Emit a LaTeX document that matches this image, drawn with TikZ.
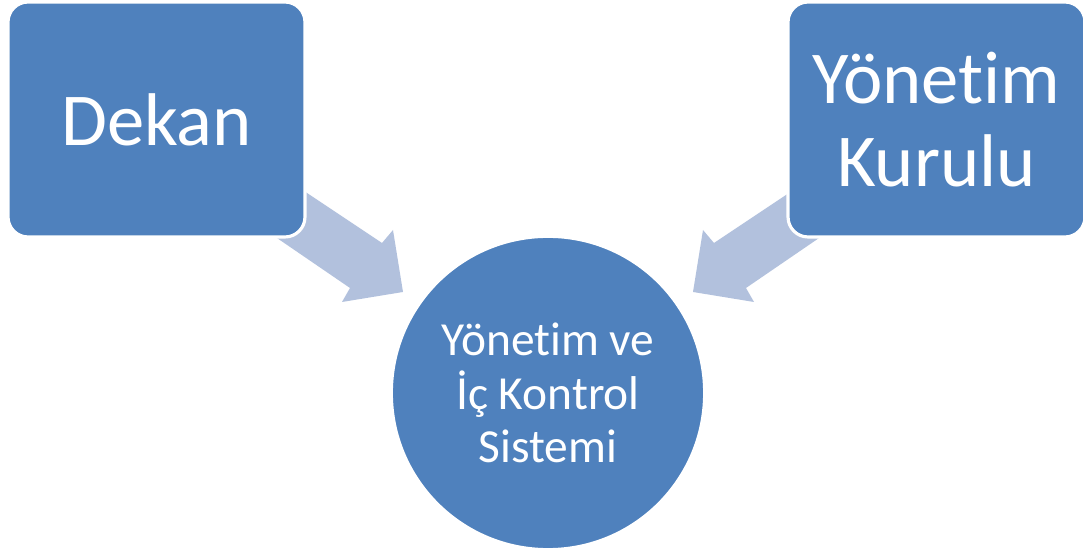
\documentclass[tikz,border=0pt]{standalone}
\usepackage{fontspec}
\setmainfont{Carlito}[RawFeature={-liga;-clig;-dlig;-calt}]
\definecolor{boxblue}{HTML}{4F81BD}
\definecolor{arrowblue}{HTML}{B2C1DD}
\tikzset{
  topbox/.style={draw=white, line width=1.8pt, fill=boxblue, rounded corners=0.4cm,
    minimum width=5.94cm, minimum height=4.7cm, text=white, align=center,
    font=\fontsize{42.5}{47}\selectfont, inner sep=0pt},
  centrecircle/.style={circle, draw=white, line width=1pt, fill=boxblue, minimum size=6.24cm,
    text=white, align=center, font=\fontsize{27}{30.6}\selectfont, inner sep=0pt},
  blockarrow/.style={fill=arrowblue, draw=none}
}
\begin{document}
\begin{tikzpicture}[x=0.02cm, y=-0.02cm]
\useasboundingbox (0,0) rectangle (1083,553);
% block arrows
\coordinate (la1) at (280,175); \coordinate (la2) at (382,243); \coordinate (la3) at (393,230);
\coordinate (la4) at (403,292); \coordinate (la5) at (342,302); \coordinate (la6) at (350,288);
\coordinate (la7) at (255,223);
\fill[blockarrow] (la1) -- (la2) -- (la3) -- (la4) -- (la5) -- (la6) -- (la7) -- cycle;
\coordinate (ra1) at (816,175); \coordinate (ra2) at (714,243); \coordinate (ra3) at (703,230);
\coordinate (ra4) at (693,292); \coordinate (ra5) at (754,302); \coordinate (ra6) at (746,288);
\coordinate (ra7) at (841,223);
\fill[blockarrow] (ra1) -- (ra2) -- (ra3) -- (ra4) -- (ra5) -- (ra6) -- (ra7) -- cycle;
% boxes
\node[topbox] (dekan) at (156.5,119.5) {Dekan};
\node[topbox] (kurul) at (936.5,119.5) {Yönetim\\Kurulu};
\node[centrecircle] (sistem) at (548,393) {Yönetim ve\\İç Kontrol\\Sistemi};
\end{tikzpicture}
\end{document}
